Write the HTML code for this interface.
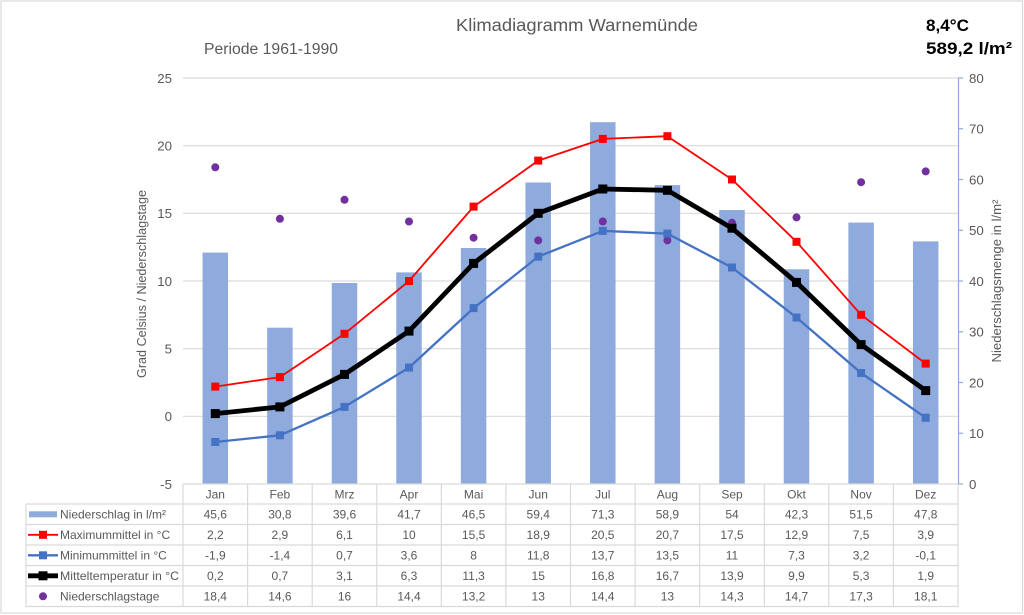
<!DOCTYPE html>
<html><head><meta charset="utf-8"><style>
html,body{margin:0;padding:0;background:#fff;}
svg{display:block;font-family:"Liberation Sans",Arial,sans-serif;}
</style></head><body>
<svg width="1024" height="615" viewBox="0 0 1024 615" xmlns="http://www.w3.org/2000/svg">
<rect x="0" y="0" width="1024" height="615" fill="#fff"/>
<rect x="1" y="1" width="1021.5" height="612" fill="none" stroke="#d9d9d9" stroke-width="1.2"/>

<!-- titles -->
<text x="577" y="31" font-size="17.5" fill="#595959" text-anchor="middle" textLength="242" lengthAdjust="spacingAndGlyphs">Klimadiagramm Warnemünde</text>
<text x="204" y="54" font-size="15.5" fill="#595959" textLength="134" lengthAdjust="spacingAndGlyphs">Periode 1961-1990</text>
<text x="926" y="31" font-size="17" font-weight="bold" fill="#000" textLength="43" lengthAdjust="spacingAndGlyphs">8,4°C</text>
<text x="926" y="54" font-size="17" font-weight="bold" fill="#000" textLength="86" lengthAdjust="spacingAndGlyphs">589,2 l/m²</text>

<!-- gridlines -->
<g stroke="#d9d9d9" stroke-width="1.2">
<line x1="183" y1="78" x2="958" y2="78"/>
<line x1="183" y1="145.7" x2="958" y2="145.7"/>
<line x1="183" y1="213.3" x2="958" y2="213.3"/>
<line x1="183" y1="281" x2="958" y2="281"/>
<line x1="183" y1="348.7" x2="958" y2="348.7"/>
<line x1="183" y1="416.3" x2="958" y2="416.3"/>
</g>

<!-- left tick labels -->
<g font-size="13.3" fill="#595959" text-anchor="end">
<text x="172" y="83">25</text>
<text x="172" y="150.5">20</text>
<text x="172" y="218">15</text>
<text x="172" y="285.8">10</text>
<text x="172" y="353.5">5</text>
<text x="172" y="421">0</text>
<text x="172" y="489">-5</text>
</g>

<!-- right axis -->
<line x1="958.5" y1="78" x2="958.5" y2="484" stroke="#8faadc" stroke-width="1.2"/>
<g stroke="#8faadc" stroke-width="1.2">
<line x1="958" y1="78" x2="963" y2="78"/>
<line x1="958" y1="128.75" x2="963" y2="128.75"/>
<line x1="958" y1="179.5" x2="963" y2="179.5"/>
<line x1="958" y1="230.25" x2="963" y2="230.25"/>
<line x1="958" y1="281" x2="963" y2="281"/>
<line x1="958" y1="331.75" x2="963" y2="331.75"/>
<line x1="958" y1="382.5" x2="963" y2="382.5"/>
<line x1="958" y1="433.25" x2="963" y2="433.25"/>
<line x1="958" y1="484" x2="963" y2="484"/>
</g>
<g font-size="13.3" fill="#595959">
<text x="969" y="83">80</text>
<text x="969" y="133.5">70</text>
<text x="969" y="184.3">60</text>
<text x="969" y="235">50</text>
<text x="969" y="285.8">40</text>
<text x="969" y="336.5">30</text>
<text x="969" y="387.3">20</text>
<text x="969" y="438">10</text>
<text x="969" y="489">0</text>
</g>

<!-- axis titles -->
<text transform="translate(146,284) rotate(-90)" font-size="13" fill="#595959" text-anchor="middle" textLength="188" lengthAdjust="spacingAndGlyphs">Grad Celsius / Niederschlagstage</text>
<text transform="translate(1001,281) rotate(-90)" font-size="13" fill="#595959" text-anchor="middle" textLength="163" lengthAdjust="spacingAndGlyphs">Niederschlagsmenge in l/m²</text>

<!-- bars -->
<g fill="#8faadc">
<rect x="202.55" y="252.6" width="25.5" height="231.4"/>
<rect x="267.15" y="327.7" width="25.5" height="156.3"/>
<rect x="331.75" y="283.0" width="25.5" height="201.0"/>
<rect x="396.25" y="272.4" width="25.5" height="211.6"/>
<rect x="460.85" y="248.0" width="25.5" height="236.0"/>
<rect x="525.45" y="182.5" width="25.5" height="301.5"/>
<rect x="590.05" y="122.2" width="25.5" height="361.8"/>
<rect x="654.65" y="185.1" width="25.5" height="298.9"/>
<rect x="719.25" y="210.0" width="25.5" height="274.0"/>
<rect x="783.75" y="269.3" width="25.5" height="214.7"/>
<rect x="848.35" y="222.6" width="25.5" height="261.4"/>
<rect x="912.95" y="241.4" width="25.5" height="242.6"/>
</g>

<!-- Niederschlagstage dots -->
<g fill="#7030a0">
<circle cx="215.3" cy="167.3" r="4"/>
<circle cx="279.9" cy="218.8" r="4"/>
<circle cx="344.5" cy="199.8" r="4"/>
<circle cx="409.0" cy="221.5" r="4"/>
<circle cx="473.6" cy="237.7" r="4"/>
<circle cx="538.2" cy="240.4" r="4"/>
<circle cx="602.8" cy="221.5" r="4"/>
<circle cx="667.4" cy="240.4" r="4"/>
<circle cx="732.0" cy="222.8" r="4"/>
<circle cx="796.5" cy="217.4" r="4"/>
<circle cx="861.1" cy="182.2" r="4"/>
<circle cx="925.7" cy="171.4" r="4"/>
</g>

<!-- Max line (red) -->
<polyline fill="none" stroke="#ff0000" stroke-width="1.8" stroke-linejoin="round" points="215.3,386.6 279.9,377.1 344.5,333.8 409.0,281.0 473.6,206.6 538.2,160.6 602.8,138.9 667.4,136.2 732.0,179.5 796.5,241.8 861.1,314.8 925.7,363.6"/>
<g fill="#ff0000">
<rect x="211.3" y="382.6" width="8" height="8"/>
<rect x="275.9" y="373.1" width="8" height="8"/>
<rect x="340.5" y="329.8" width="8" height="8"/>
<rect x="405.0" y="277.0" width="8" height="8"/>
<rect x="469.6" y="202.6" width="8" height="8"/>
<rect x="534.2" y="156.6" width="8" height="8"/>
<rect x="598.8" y="134.9" width="8" height="8"/>
<rect x="663.4" y="132.2" width="8" height="8"/>
<rect x="728.0" y="175.5" width="8" height="8"/>
<rect x="792.5" y="237.8" width="8" height="8"/>
<rect x="857.1" y="310.8" width="8" height="8"/>
<rect x="921.7" y="359.6" width="8" height="8"/>
</g>

<!-- Min line (blue) -->
<polyline fill="none" stroke="#4472c4" stroke-width="2.3" stroke-linejoin="round" points="215.3,442.0 279.9,435.3 344.5,406.9 409.0,367.6 473.6,308.1 538.2,256.6 602.8,230.9 667.4,233.6 732.0,267.5 796.5,317.5 861.1,373.0 925.7,417.7"/>
<g fill="#4472c4">
<rect x="211.3" y="438.0" width="8" height="8"/>
<rect x="275.9" y="431.3" width="8" height="8"/>
<rect x="340.5" y="402.9" width="8" height="8"/>
<rect x="405.0" y="363.6" width="8" height="8"/>
<rect x="469.6" y="304.1" width="8" height="8"/>
<rect x="534.2" y="252.6" width="8" height="8"/>
<rect x="598.8" y="226.9" width="8" height="8"/>
<rect x="663.4" y="229.6" width="8" height="8"/>
<rect x="728.0" y="263.5" width="8" height="8"/>
<rect x="792.5" y="313.5" width="8" height="8"/>
<rect x="857.1" y="369.0" width="8" height="8"/>
<rect x="921.7" y="413.7" width="8" height="8"/>
</g>

<!-- Mittel line (black) -->
<polyline fill="none" stroke="#000" stroke-width="4.8" stroke-linejoin="round" points="215.3,413.6 279.9,406.9 344.5,374.4 409.0,331.1 473.6,263.4 538.2,213.3 602.8,189.0 667.4,190.3 732.0,228.2 796.5,282.4 861.1,344.6 925.7,390.6"/>
<g fill="#000">
<rect x="210.8" y="409.1" width="9" height="9"/>
<rect x="275.4" y="402.4" width="9" height="9"/>
<rect x="340.0" y="369.9" width="9" height="9"/>
<rect x="404.5" y="326.6" width="9" height="9"/>
<rect x="469.1" y="258.9" width="9" height="9"/>
<rect x="533.7" y="208.8" width="9" height="9"/>
<rect x="598.3" y="184.5" width="9" height="9"/>
<rect x="662.9" y="185.8" width="9" height="9"/>
<rect x="727.5" y="223.7" width="9" height="9"/>
<rect x="792.0" y="277.9" width="9" height="9"/>
<rect x="856.6" y="340.1" width="9" height="9"/>
<rect x="921.2" y="386.1" width="9" height="9"/>
</g>

<!-- data table grid -->
<g stroke="#d9d9d9" stroke-width="1.2">
<line x1="183" y1="484" x2="958" y2="484"/>
<line x1="26" y1="504" x2="958" y2="504"/>
<line x1="26" y1="524.5" x2="958" y2="524.5"/>
<line x1="26" y1="545" x2="958" y2="545"/>
<line x1="26" y1="565.5" x2="958" y2="565.5"/>
<line x1="26" y1="586" x2="958" y2="586"/>
<line x1="26" y1="606.5" x2="958" y2="606.5"/>
<line x1="26" y1="504" x2="26" y2="606.5"/>
<line x1="183" y1="484" x2="183" y2="606.5"/>
<line x1="247.6" y1="484" x2="247.6" y2="606.5"/>
<line x1="312.2" y1="484" x2="312.2" y2="606.5"/>
<line x1="376.8" y1="484" x2="376.8" y2="606.5"/>
<line x1="441.3" y1="484" x2="441.3" y2="606.5"/>
<line x1="505.9" y1="484" x2="505.9" y2="606.5"/>
<line x1="570.5" y1="484" x2="570.5" y2="606.5"/>
<line x1="635.1" y1="484" x2="635.1" y2="606.5"/>
<line x1="699.7" y1="484" x2="699.7" y2="606.5"/>
<line x1="764.3" y1="484" x2="764.3" y2="606.5"/>
<line x1="828.8" y1="484" x2="828.8" y2="606.5"/>
<line x1="893.4" y1="484" x2="893.4" y2="606.5"/>
<line x1="958" y1="484" x2="958" y2="606.5"/>
</g>

<!-- legend keys -->
<rect x="29" y="511.3" width="28" height="6" fill="#8faadc"/>
<line x1="28" y1="534.8" x2="58" y2="534.8" stroke="#ff0000" stroke-width="1.8"/>
<rect x="39" y="530.8" width="8" height="8" fill="#ff0000"/>
<line x1="28" y1="555.3" x2="58" y2="555.3" stroke="#4472c4" stroke-width="2.3"/>
<rect x="39" y="551.3" width="8" height="8" fill="#4472c4"/>
<line x1="28" y1="575.8" x2="58" y2="575.8" stroke="#000" stroke-width="4.8"/>
<rect x="38.5" y="571.3" width="9" height="9" fill="#000"/>
<circle cx="43" cy="596.3" r="4" fill="#7030a0"/>

<g font-size="12" fill="#595959">
<text x="60" y="518.5">Niederschlag in l/m²</text>
<text x="60" y="539">Maximummittel in °C</text>
<text x="60" y="559.5">Minimummittel in °C</text>
<text x="60" y="580" textLength="119" lengthAdjust="spacingAndGlyphs">Mitteltemperatur in °C</text>
<text x="60" y="600.5">Niederschlagstage</text>
</g>

<!-- table values -->
<g font-size="12" fill="#595959" text-anchor="middle">
<text y="498.5"><tspan x="215.3">Jan</tspan><tspan x="279.9">Feb</tspan><tspan x="344.5">Mrz</tspan><tspan x="409.0">Apr</tspan><tspan x="473.6">Mai</tspan><tspan x="538.2">Jun</tspan><tspan x="602.8">Jul</tspan><tspan x="667.4">Aug</tspan><tspan x="732.0">Sep</tspan><tspan x="796.5">Okt</tspan><tspan x="861.1">Nov</tspan><tspan x="925.7">Dez</tspan></text>
<text y="518.5"><tspan x="215.3">45,6</tspan><tspan x="279.9">30,8</tspan><tspan x="344.5">39,6</tspan><tspan x="409.0">41,7</tspan><tspan x="473.6">46,5</tspan><tspan x="538.2">59,4</tspan><tspan x="602.8">71,3</tspan><tspan x="667.4">58,9</tspan><tspan x="732.0">54</tspan><tspan x="796.5">42,3</tspan><tspan x="861.1">51,5</tspan><tspan x="925.7">47,8</tspan></text>
<text y="539"><tspan x="215.3">2,2</tspan><tspan x="279.9">2,9</tspan><tspan x="344.5">6,1</tspan><tspan x="409.0">10</tspan><tspan x="473.6">15,5</tspan><tspan x="538.2">18,9</tspan><tspan x="602.8">20,5</tspan><tspan x="667.4">20,7</tspan><tspan x="732.0">17,5</tspan><tspan x="796.5">12,9</tspan><tspan x="861.1">7,5</tspan><tspan x="925.7">3,9</tspan></text>
<text y="559.5"><tspan x="215.3">-1,9</tspan><tspan x="279.9">-1,4</tspan><tspan x="344.5">0,7</tspan><tspan x="409.0">3,6</tspan><tspan x="473.6">8</tspan><tspan x="538.2">11,8</tspan><tspan x="602.8">13,7</tspan><tspan x="667.4">13,5</tspan><tspan x="732.0">11</tspan><tspan x="796.5">7,3</tspan><tspan x="861.1">3,2</tspan><tspan x="925.7">-0,1</tspan></text>
<text y="580"><tspan x="215.3">0,2</tspan><tspan x="279.9">0,7</tspan><tspan x="344.5">3,1</tspan><tspan x="409.0">6,3</tspan><tspan x="473.6">11,3</tspan><tspan x="538.2">15</tspan><tspan x="602.8">16,8</tspan><tspan x="667.4">16,7</tspan><tspan x="732.0">13,9</tspan><tspan x="796.5">9,9</tspan><tspan x="861.1">5,3</tspan><tspan x="925.7">1,9</tspan></text>
<text y="600.5"><tspan x="215.3">18,4</tspan><tspan x="279.9">14,6</tspan><tspan x="344.5">16</tspan><tspan x="409.0">14,4</tspan><tspan x="473.6">13,2</tspan><tspan x="538.2">13</tspan><tspan x="602.8">14,4</tspan><tspan x="667.4">13</tspan><tspan x="732.0">14,3</tspan><tspan x="796.5">14,7</tspan><tspan x="861.1">17,3</tspan><tspan x="925.7">18,1</tspan></text>
</g>
</svg>
</body></html>
